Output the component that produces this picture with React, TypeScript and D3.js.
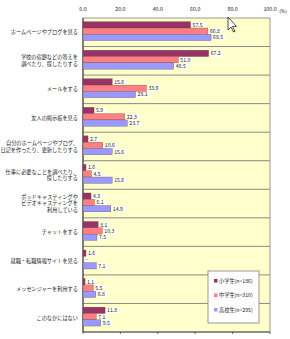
import React from "react";
import * as d3 from "d3";

const categories: string[][] = [
  ["ホームページやブログを見る"],
  ["学校の宿題などの答えを", "調べたり、探したりする"],
  ["メールをする"],
  ["友人の掲示板を見る"],
  ["自分のホームページやブログ、", "日記を作ったり、更新したりする"],
  ["仕事に必要なことを調べたり、", "探したりする"],
  ["ポッドキャスティングや", "ビデオキャスティングを", "利用している"],
  ["チャットをする"],
  ["就職・転職情報サイトを見る"],
  ["メッセンジャーを利用する"],
  ["このなかにはない"],
];

const elementary: (number | null)[] = [57.5, 67.2, 15.6, 5.9, 2.7, 1.6, 4.3, 8.1, 1.6, 1.1, 11.8];
const juniorHigh: (number | null)[] = [66.8, 51.0, 33.9, 22.3, 10.6, 4.5, 6.1, 10.3, null, 5.5, 7.1];
const highSchool: (number | null)[] = [68.5, 48.5, 28.1, 23.7, 15.6, 15.6, 14.9, 7.5, 7.1, 6.8, 9.5];

const seriesNames = ["小学生(n=186)", "中学生(n=310)", "高校生(n=295)"];
const seriesColors = ["#993366", "#FF8080", "#9999FF"];
const xTicks = [0, 20, 40, 60, 80, 100];

const FONT = "'Noto Sans CJK JP', 'Noto Sans', sans-serif";

export default function App() {
  const W = 290, H = 339;
  const left = 83, right = 270, top = 18, bottom = 332;
  const x = d3.scaleLinear().domain([0, 100]).range([left, right]);
  const keys = categories.map((_, i) => String(i));
  const y = d3.scaleBand().domain(keys).range([top, bottom]);
  const bw = y.bandwidth();
  const barH = 6.3;
  const offset = 3.7;
  const series = [elementary, juniorHigh, highSchool];

  return (
    <svg width={W} height={H} style={{ position: "absolute", left: 0, top: 0, background: "#fff" }} fontFamily={FONT}>
      <rect x={left} y={top} width={right - left} height={bottom - top} fill="#FFFFCC" stroke="#808080" strokeWidth={0.8} />
      {keys.slice(1).map((k) => (
        <line key={k} x1={left} x2={right} y1={y(k)!} y2={y(k)!} stroke="#8a8a8a" strokeWidth={1} />
      ))}
      {xTicks.map((t) => (
        <g key={t}>
          <text x={x(t)} y={11} fontSize={5.3} textAnchor="middle" fill="#222">{t.toFixed(1)}</text>
          <line x1={x(t)} x2={x(t)} y1={bottom} y2={bottom + 2} stroke="#333" strokeWidth={0.7} />
        </g>
      ))}
      <text x={283} y={13} fontSize={4.8} textAnchor="middle" fill="#222">(%)</text>
      <line x1={left} x2={left} y1={top} y2={bottom} stroke="#333" strokeWidth={1} />
      <line x1={left} x2={right} y1={bottom} y2={bottom} stroke="#333" strokeWidth={0.8} />
      {categories.map((lines, i) => {
        const cy = y(keys[i])! + bw / 2;
        const lh = 6.8;
        const start = cy - ((lines.length - 1) * lh) / 2;
        return (
          <text key={i} x={78} fontSize={5.2} textAnchor="end" fill="#222">
            {lines.map((l, j) => (
              <tspan key={j} x={78} y={start + j * lh + 1.9}>{l}</tspan>
            ))}
          </text>
        );
      })}
      {series.map((vals, s) =>
        vals.map((v, i) => {
          const by = y(keys[i])! + offset + s * barH;
          const label = v === null ? "–" : v.toFixed(1);
          const end = v === null ? x(0) : x(v);
          const tw = label.length * 2.9 + 1;
          return (
            <g key={`${s}-${i}`}>
              {v !== null && (
                <rect x={x(0)} y={by} width={end - x(0)} height={barH} fill={seriesColors[s]} stroke="#5a3a4a" strokeWidth={0.3} />
              )}
              <rect x={end + 1.5} y={by + 0.6} width={tw} height={barH - 1.2} fill="#fff" />
              <text x={end + 2} y={by + barH / 2 + 1.9} fontSize={5.2} fill="#222">{label}</text>
            </g>
          );
        })
      )}
      <g>
        <rect x={208} y={271} width={51} height={52} fill="#fff" stroke="#808080" strokeWidth={0.8} />
        {seriesNames.map((n, s) => (
          <g key={n}>
            <rect x={214} y={279 + s * 14.5} width={3.5} height={3.5} fill={seriesColors[s]} />
            <text x={219} y={282.5 + s * 14.5} fontSize={5.2} fill="#222">{n}</text>
          </g>
        ))}
      </g>
      <path d="M228,17 L228,30 L231,27 L233.5,32 L235,31.3 L232.6,26.4 L236.5,26.4 Z" fill="#fff" stroke="#000" strokeWidth={0.7} />
    </svg>
  );
}
